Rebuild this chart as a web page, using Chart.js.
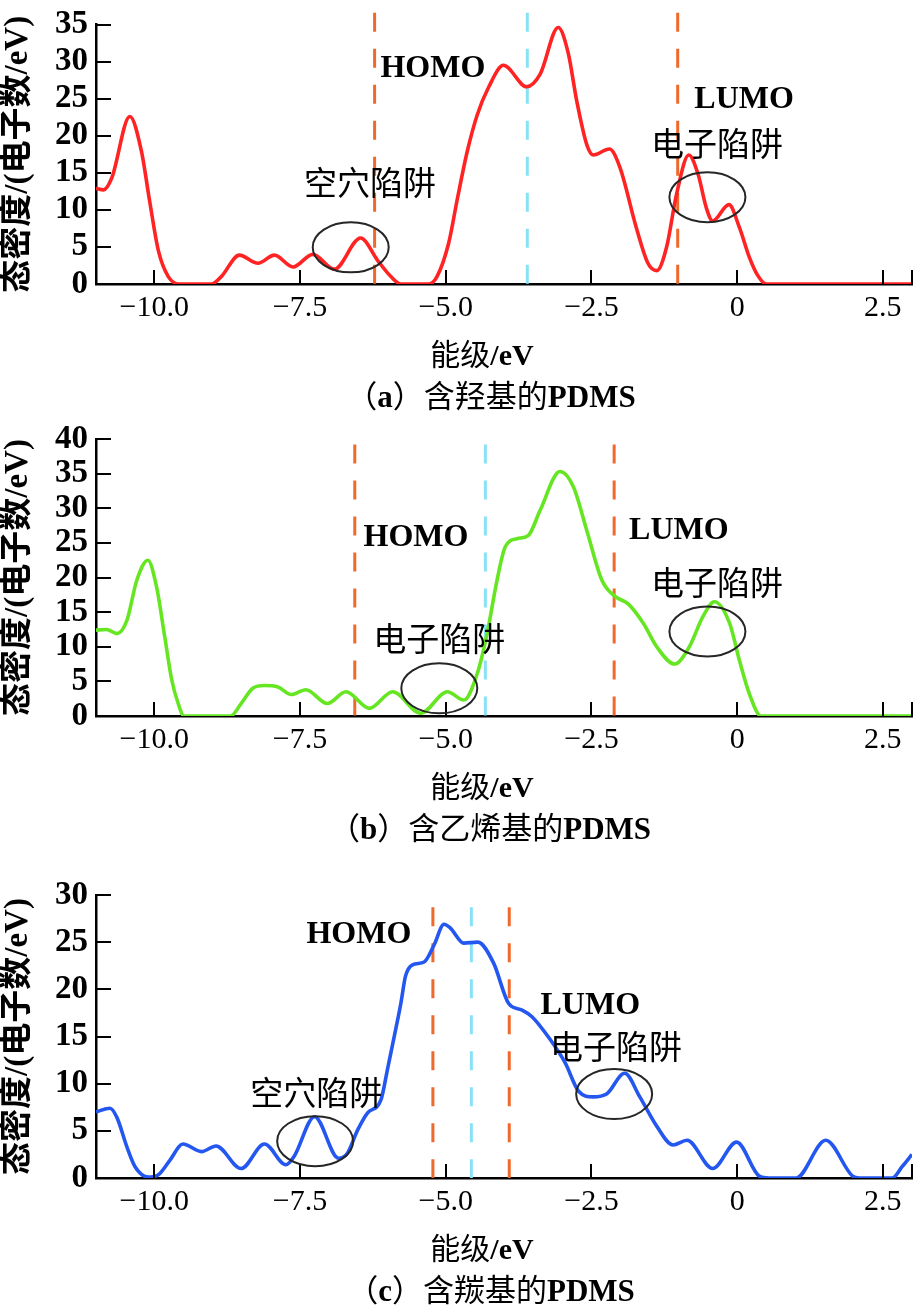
<!DOCTYPE html>
<html>
<head>
<meta charset="utf-8">
<script src="https://cdn.jsdelivr.net/npm/chart.js@4.4.1/dist/chart.umd.min.js"></script>
<style>
html,body{margin:0;padding:0;background:#fff;}
#wrap{position:relative;width:916px;height:1315px;overflow:hidden;background:#fff;}
canvas{position:absolute;left:0;top:0;}
</style>
</head>
<body>
<div id="wrap">
<canvas id="ca" width="916" height="1315"></canvas>
<canvas id="cb" width="916" height="1315"></canvas>
<canvas id="cc" width="916" height="1315"></canvas>
</div>
<script>
// ---------------- data ----------------
const X_TICK_VALUES = [-10, -7.5, -5, -2.5, 0, 2.5];
const X_TICK_LABELS = ['\u221210.0', '\u22127.5', '\u22125.0', '\u22122.5', '0', '2.5'];
const X_TICK_MARKS = [-10, -7.5, -5, -2.5, 0, 2.5, 3];

// (a) hydroxyl-terminated PDMS
const ENERGY_A = [-11.0,-10.87,-10.73,-10.42,-10.22,-10.08,-9.93,-9.76,-9.57,-9.02,-8.85,-8.54,-8.22,-7.94,-7.62,-7.28,-6.91,-6.46,-6.17,-5.94,-5.77,-5.29,-5.15,-4.95,-4.80,-4.63,-4.46,-4.26,-4.01,-3.61,-3.38,-3.07,-2.90,-2.75,-2.58,-2.47,-2.19,-2.01,-1.73,-1.53,-1.38,-1.21,-1.04,-0.83,-0.67,-0.53,-0.42,-0.14,0.04,0.21,0.35,0.50,3.0];
const DOS_A    = [12.9,12.7,14.3,22.6,17.9,11.2,4.5,1.0,0,0,1.0,3.9,2.8,3.9,2.3,4.0,2.0,6.2,3.2,1.0,0,0,1.0,5.5,11.5,17.9,22.8,26.6,29.5,26.6,28.3,34.6,31.2,24.6,18.8,17.4,18.2,15.7,7.6,2.8,1.8,5.0,12.1,17.4,14.8,10.3,8.5,10.7,7.6,3.6,1.2,0,0];
const LEVELS_A = [-6.22, -3.60, -1.02]; // HOMO, Fermi, LUMO

// (b) vinyl-terminated PDMS
const ENERGY_B = [-11.0,-10.82,-10.64,-10.47,-10.30,-10.11,-9.96,-9.82,-9.70,-9.59,-9.49,-8.69,-8.51,-8.31,-8.11,-7.88,-7.65,-7.40,-7.03,-6.71,-6.31,-5.91,-5.43,-4.97,-4.69,-4.46,-4.29,-4.12,-3.98,-3.78,-3.58,-3.38,-3.04,-2.81,-2.58,-2.32,-2.10,-1.87,-1.61,-1.38,-1.07,-0.82,-0.59,-0.39,-0.13,0.04,0.21,0.41,3.0];
const DOS_B    = [12.4,12.5,11.9,13.8,19.6,22.5,18.6,11.4,5.2,1.8,0,0,1.8,4.0,4.4,4.2,3.1,3.8,1.8,3.5,1.1,3.5,0.4,3.5,2.3,6.1,11.9,19.6,24.4,25.6,26.1,29.7,35.3,33.1,26.8,19.6,17.3,16.2,13.4,10.0,7.5,10.0,14.3,16.5,13.4,8.0,3.2,0,0];
const LEVELS_B = [-6.56, -4.32, -2.11];

// (c) carboxyl-terminated PDMS
const ENERGY_C = [-11.0,-10.76,-10.64,-10.47,-10.33,-10.10,-9.93,-9.73,-9.51,-9.19,-8.94,-8.51,-8.11,-7.74,-7.60,-7.25,-6.84,-6.69,-6.51,-6.34,-6.11,-6.00,-5.86,-5.77,-5.69,-5.57,-5.37,-5.20,-5.03,-4.92,-4.69,-4.45,-4.18,-3.92,-3.69,-3.52,-3.21,-2.95,-2.72,-2.47,-2.24,-1.93,-1.67,-1.38,-1.10,-0.86,-0.42,-0.01,0.38,0.55,1.01,1.52,1.98,2.10,2.66,2.83,3.0];
const DOS_C    = [7.0,7.4,6.4,3.3,1.2,0.1,0.35,1.9,3.6,2.8,3.4,1.0,3.6,1.4,2.3,6.5,2.1,2.6,5.1,6.9,8.3,11.5,15.7,18.5,21.4,22.6,22.9,24.7,26.9,26.5,24.9,25.0,22.8,18.5,17.8,17.1,14.7,12.2,9.2,8.6,8.9,11.1,8.6,5.5,3.5,4.0,1.0,3.8,0.2,0,0,4.0,0.2,0,0,1.2,2.5];
const LEVELS_C = [-5.22, -4.56, -3.91];

// ---------------- styles ----------------
const LATIN = "'Liberation Serif', 'Times New Roman', serif";
const CJK = "'Noto Sans CJK SC', sans-serif";
const MIXED = "'Liberation Serif', 'Noto Sans CJK SC', serif";
const ORANGE = '#f0692c';
const CYAN = '#88e2f6';

const PANELS = [
  { id: 'ca', energy: ENERGY_A, dos: DOS_A, levels: LEVELS_A, yMax: 40 - 5, color: '#ff2323',
    top: 22, bottom: 284, lineTop: 36.6, tag: 'a', name: '含羟基的', titleCx: 482, capCx: 491,
    labels: [
      { text: 'HOMO', x: -5.22, y: 29.0, latin: true },
      { text: 'LUMO', x: 0.12, y: 24.9, latin: true },
      { text: '空穴陷阱', x: -6.30, y: 13.7 },
      { text: '电子陷阱', x: -0.345, y: 19.0 }
    ],
    ellipses: [ { x: -6.63, y: 4.94 }, { x: -0.51, y: 11.7 } ] },
  { id: 'cb', energy: ENERGY_B, dos: DOS_B, levels: LEVELS_B, yMax: 40, color: '#66e622',
    top: 439, bottom: 716, lineTop: 39.2, tag: 'b', name: '含乙烯基的', titleCx: 482, capCx: 490,
    labels: [
      { text: 'HOMO', x: -5.51, y: 25.8, latin: true },
      { text: 'LUMO', x: -1.00, y: 26.7, latin: true },
      { text: '电子陷阱', x: -5.11, y: 11.2 },
      { text: '电子陷阱', x: -0.345, y: 19.3 }
    ],
    ellipses: [ { x: -5.11, y: 4.0 }, { x: -0.51, y: 12.2 } ] },
  { id: 'cc', energy: ENERGY_C, dos: DOS_C, levels: LEVELS_C, yMax: 30, color: '#2457f0',
    top: 895, bottom: 1178, lineTop: 28.7, tag: 'c', name: '含羰基的', titleCx: 482, capCx: 491,
    labels: [
      { text: 'HOMO', x: -6.49, y: 25.8, latin: true },
      { text: 'LUMO', x: -2.52, y: 18.25, latin: true },
      { text: '空穴陷阱', x: -7.22, y: 9.1 },
      { text: '电子陷阱', x: -2.08, y: 13.9 }
    ],
    ellipses: [ { x: -7.24, y: 3.9 }, { x: -2.11, y: 8.9 } ] }
];

function drawRich(ctx, runs, cx, cy) {
  let total = 0;
  runs.forEach(r => { ctx.font = r.font; r.w = ctx.measureText(r.text).width; total += r.w; });
  let x = cx - total / 2;
  ctx.textAlign = 'left';
  ctx.textBaseline = 'alphabetic';
  runs.forEach(r => { ctx.font = r.font; ctx.fillText(r.text, x, cy + r.base); x += r.w; });
}

const decorPlugin = {
  id: 'decor',
  afterDatasetsDraw(chart, args, o) {
    const ctx = chart.ctx, xs = chart.scales.x, ys = chart.scales.y, ca = chart.chartArea;
    ctx.save();
    // inward tick marks
    ctx.strokeStyle = '#000';
    ctx.lineWidth = 2;
    X_TICK_MARKS.forEach(v => {
      const px = Math.round(xs.getPixelForValue(v));
      ctx.beginPath(); ctx.moveTo(px, ca.bottom); ctx.lineTo(px, ca.bottom - 14); ctx.stroke();
    });
    ys.ticks.forEach(t => {
      const py = Math.round(ys.getPixelForValue(t.value));
      ctx.beginPath(); ctx.moveTo(ca.left, py); ctx.lineTo(ca.left + 15, py); ctx.stroke();
    });
    // trap ellipses
    ctx.strokeStyle = '#262626';
    ctx.lineWidth = 2;
    o.ellipses.forEach(e => {
      ctx.beginPath();
      ctx.ellipse(xs.getPixelForValue(e.x), ys.getPixelForValue(e.y), 38, 25, 0, 0, Math.PI * 2);
      ctx.stroke();
    });
    // annotation labels
    ctx.fillStyle = '#000';
    ctx.textAlign = 'center';
    ctx.textBaseline = 'middle';
    o.labels.forEach(l => {
      ctx.font = l.latin ? `bold 32px ${LATIN}` : `33px ${CJK}`;
      ctx.fillText(l.text, xs.getPixelForValue(l.x), ys.getPixelForValue(l.y));
    });
    // x-axis title and caption
    drawRich(ctx, [
      { text: '能级', font: `30px ${CJK}`, base: 11 },
      { text: '/eV', font: `bold 30px ${LATIN}`, base: 11 }
    ], o.titleCx, ca.bottom + 70);
    drawRich(ctx, [
      { text: '（', font: `31px ${CJK}`, base: 11 },
      { text: o.tag, font: `bold 31px ${LATIN}`, base: 11 },
      { text: '）', font: `31px ${CJK}`, base: 11 },
      { text: o.name, font: `31px ${CJK}`, base: 11 },
      { text: 'PDMS', font: `bold 31px ${LATIN}`, base: 11 }
    ], o.capCx, ca.bottom + 112);
    ctx.restore();
  }
};

PANELS.forEach(p => {
  const curve = p.energy.map((e, i) => ({ x: e, y: p.dos[i] }));
  const levelColors = [ORANGE, CYAN, ORANGE];
  const levelSets = p.levels.map((lv, i) => ({
    data: [{ x: lv, y: p.lineTop }, { x: lv, y: 0 }],
    borderColor: levelColors[i],
    borderWidth: 3,
    borderDash: [19, 17],
    pointRadius: 0,
    tension: 0,
    clip: false,
    order: 2
  }));
  new Chart(document.getElementById(p.id), {
    type: 'line',
    data: {
      datasets: [
        { data: curve, borderColor: p.color, borderWidth: 3.6, pointRadius: 0,
          cubicInterpolationMode: 'monotone', fill: false, order: 1 },
        ...levelSets
      ]
    },
    options: {
      responsive: false,
      animation: false,
      events: [],
      layout: { padding: { left: 0, right: 4, top: p.top, bottom: 1315 - (p.bottom + 88) } },
      plugins: {
        legend: { display: false },
        tooltip: { enabled: false },
        decor: { labels: p.labels, ellipses: p.ellipses, tag: p.tag, name: p.name, titleCx: p.titleCx, capCx: p.capCx }
      },
      scales: {
        x: {
          type: 'linear', min: -11, max: 3, z: 1,
          afterBuildTicks: s => { s.ticks = X_TICK_VALUES.map(v => ({ value: v })); },
          afterFit: s => { s.height = 88; },
          grid: { display: false, drawTicks: false },
          border: { display: true, color: '#000', width: 2.5 },
          ticks: {
            autoSkip: false, maxRotation: 0, padding: 6, color: '#000',
            font: { family: LATIN, size: 30, lineHeight: 1.2 },
            callback: v => { const i = X_TICK_VALUES.indexOf(v); return i >= 0 ? X_TICK_LABELS[i] : ''; }
          },
          title: { display: false }
        },
        y: {
          type: 'linear', min: 0, max: p.yMax, z: 1,
          afterFit: s => { s.width = 96; },
          grid: { display: false, drawTicks: false },
          border: { display: true, color: '#000', width: 2.5 },
          ticks: {
            stepSize: 5, autoSkip: false, padding: 8, color: '#000',
            font: { family: LATIN, size: 33, weight: 'bold', lineHeight: 1.0 }
          },
          title: {
            display: true, text: '态密度/(电子数/eV)', color: '#000',
            font: { family: MIXED, size: 33, weight: 'bold', lineHeight: 1.0 },
            padding: { top: 2, bottom: 0 }
          }
        }
      }
    },
    plugins: [decorPlugin]
  });
});
</script>
</body>
</html>
